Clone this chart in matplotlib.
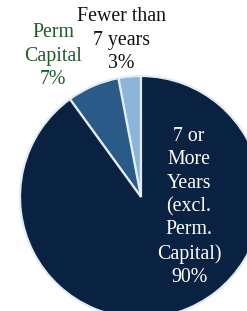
import matplotlib
matplotlib.use('Agg')
import matplotlib.pyplot as plt

# data
labels = ['Fewer than\n7 years', 'Perm\nCapital', '7 or\nMore\nYears\n(excl.\nPerm.\nCapital)']
values = [3, 7, 90]
colors = ['#8db4da', '#2a5a87', '#0a2241']
text_colors = ['#111111', '#1e5a2a', '#ffffff']

plt.rcParams['font.family'] = ['Liberation Serif', 'DejaVu Serif']

fig = plt.figure(figsize=(2.47, 3.11), dpi=100)
ax = fig.add_axes([0, 0, 1, 1])

# pixel-like coords, y up
cx, cy, r = 141, 311 - 197, 121
wedges, _ = ax.pie(values, colors=colors, startangle=90, counterclock=True,
                   center=(cx, cy), radius=r, frame=True,
                   wedgeprops=dict(edgecolor='#e3ecf4', linewidth=1.6))

# label positions (pixel coords in the picture)
label_pos = [(121, 40), (53, 56), (189, 207)]
for lab, v, (x, y), c in zip(labels, values, label_pos, text_colors):
    ax.text(x, 311 - y, lab + '\n%d%%' % v, ha='center', va='center',
            color=c, fontsize=14.3, linespacing=1.3)

ax.set_xlim(0, 247)
ax.set_ylim(0, 311)
ax.set_aspect('auto')
ax.axis('off')

fig.savefig('out.png', dpi=100)
